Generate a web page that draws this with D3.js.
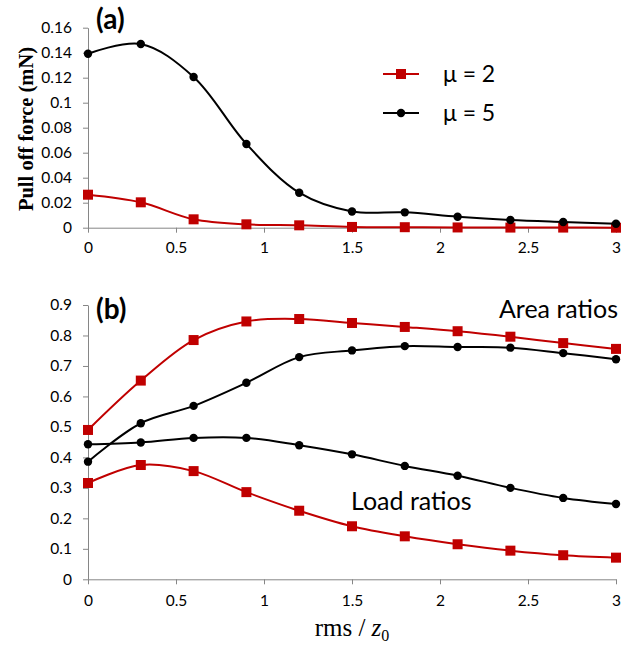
<!doctype html>
<html lang="en">
<head>
<meta charset="utf-8">
<title>Pull off force and ratios</title>
<script src="https://cdn.jsdelivr.net/npm/d3@7"></script>
<style>
  body { margin: 0; background: #fff; }
  .axis path, .axis line { stroke: #868686; }
  .axis text { font-family: Lato, "Open Sans", sans-serif; font-size: 15.5px; fill: #000; }
</style>
</head>
<body>
<svg id="chart" width="635" height="651"></svg>
<script>
// data
var rms = [0, 0.3, 0.6, 0.9, 1.2, 1.5, 1.8, 2.1, 2.4, 2.7, 3.0];
var pullMu2 = [0.0264, 0.0203, 0.0067, 0.0027, 0.0019, 0.0006, 0.0004, 0.0002, 0.0001, 0.0001, 0.0000];
var pullMu5 = [0.1392, 0.1470, 0.1206, 0.0670, 0.0280, 0.0130, 0.0123, 0.0088, 0.0062, 0.0046, 0.0032];
var areaMu2 = [0.490, 0.652, 0.785, 0.846, 0.854, 0.841, 0.828, 0.814, 0.796, 0.775, 0.756];
var areaMu5 = [0.386, 0.512, 0.569, 0.645, 0.729, 0.751, 0.765, 0.762, 0.760, 0.742, 0.722];
var loadMu2 = [0.316, 0.375, 0.355, 0.286, 0.225, 0.174, 0.141, 0.115, 0.094, 0.079, 0.071];
var loadMu5 = [0.443, 0.449, 0.464, 0.464, 0.440, 0.410, 0.372, 0.340, 0.300, 0.267, 0.247];
var xTicks = [0, 0.5, 1, 1.5, 2, 2.5, 3];
var yTicksA = [0, 0.02, 0.04, 0.06, 0.08, 0.1, 0.12, 0.14, 0.16];
var yTicksB = [0, 0.1, 0.2, 0.3, 0.4, 0.5, 0.6, 0.7, 0.8, 0.9];

var red = "#C00000", black = "#000000";
var svg = d3.select("#chart");

var x = d3.scaleLinear().domain([0, 3]).range([88, 616]);
var yA = d3.scaleLinear().domain([0, 0.16]).range([227.7, 27.7]);
var yB = d3.scaleLinear().domain([0, 0.9]).range([579.3, 305]);

function drawAxes(y, ticks, pad) {
  svg.append("g").attr("class", "axis")
    .attr("transform", "translate(0," + y(0) + ")")
    .call(d3.axisBottom(x).tickValues(xTicks).tickSize(5).tickSizeOuter(0).tickPadding(pad).tickFormat(String));
  svg.append("g").attr("class", "axis")
    .attr("transform", "translate(" + x(0) + ",0)")
    .call(d3.axisLeft(y).tickValues(ticks).tickSize(5).tickSizeOuter(0).tickPadding(11).tickFormat(String));
}
drawAxes(yA, yTicksA, 9);
drawAxes(yB, yTicksB, 11);

function series(y, vals, color, marker) {
  var pts = rms.map(function (r, i) { return [r, vals[i]]; });
  var line = d3.line().x(function (d) { return x(d[0]); }).y(function (d) { return y(d[1]); })
    .curve(d3.curveCatmullRom.alpha(0.5));
  svg.append("path").attr("d", line(pts)).attr("fill", "none")
    .attr("stroke", color).attr("stroke-width", 2);
  if (marker === "square") {
    svg.append("g").selectAll("rect").data(pts).enter().append("rect")
      .attr("x", function (d) { return x(d[0]) - 5; })
      .attr("y", function (d) { return y(d[1]) - 5; })
      .attr("width", 10).attr("height", 10).attr("fill", color);
  } else {
    svg.append("g").selectAll("circle").data(pts).enter().append("circle")
      .attr("cx", function (d) { return x(d[0]); })
      .attr("cy", function (d) { return y(d[1]); })
      .attr("r", 4.2).attr("fill", color);
  }
}

series(yA, pullMu2, red, "square");
series(yA, pullMu5, black, "circle");
series(yB, areaMu2, red, "square");
series(yB, areaMu5, black, "circle");
series(yB, loadMu5, black, "circle");
series(yB, loadMu2, red, "square");

// panel letters
svg.append("text").attr("x", 96).attr("y", 29).text("(a)")
  .style("font-family", "Lato, sans-serif").style("font-weight", "bold").style("font-size", "28px");
svg.append("text").attr("x", 96).attr("y", 319).text("(b)")
  .style("font-family", "Lato, sans-serif").style("font-weight", "bold").style("font-size", "28px");

// y title
svg.append("text").attr("transform", "translate(33,129) rotate(-90)")
  .attr("text-anchor", "middle").text("Pull off force (mN)")
  .style("font-family", "'Liberation Serif', 'Times New Roman', serif")
  .style("font-weight", "bold").style("font-size", "20.5px");

// legend
var legend = [
  { label: "\u03bc = 2", color: red, marker: "square", y: 74 },
  { label: "\u03bc = 5", color: black, marker: "circle", y: 113 }
];
legend.forEach(function (l) {
  svg.append("line").attr("x1", 383).attr("x2", 419).attr("y1", l.y).attr("y2", l.y)
    .attr("stroke", l.color).attr("stroke-width", 2);
  if (l.marker === "square") {
    svg.append("rect").attr("x", 396).attr("y", l.y - 5).attr("width", 10).attr("height", 10).attr("fill", l.color);
  } else {
    svg.append("circle").attr("cx", 401).attr("cy", l.y).attr("r", 4.2).attr("fill", l.color);
  }
  svg.append("text").attr("x", 443).attr("y", l.y + 8).text(l.label)
    .style("font-family", "Lato, sans-serif").style("font-size", "23px");
});

// annotations
svg.append("text").attr("x", 618).attr("y", 318).attr("text-anchor", "end").text("Area ratios")
  .style("font-family", "Lato, sans-serif").style("font-size", "25px");
svg.append("text").attr("x", 351).attr("y", 510).text("Load ratios")
  .style("font-family", "Lato, sans-serif").style("font-size", "25px");

// x title
var xt = svg.append("text").attr("x", x(1.5)).attr("y", 636).attr("text-anchor", "middle")
  .style("font-family", "'Liberation Serif', 'DejaVu Serif', serif").style("font-size", "25px");
xt.append("tspan").text("rms / ");
xt.append("tspan").text("z").style("font-style", "italic");
xt.append("tspan").text("0").attr("dy", 5).style("font-size", "16px");
</script>
</body>
</html>
